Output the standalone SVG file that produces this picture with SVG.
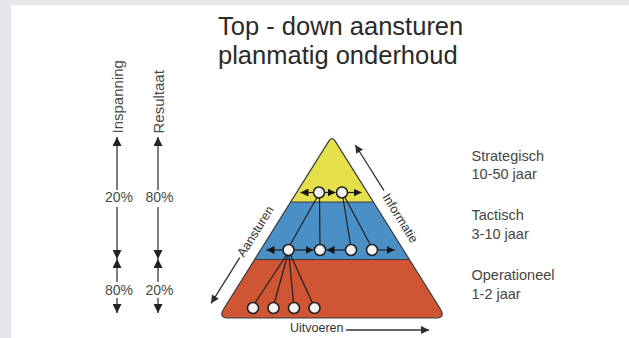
<svg xmlns="http://www.w3.org/2000/svg" width="629" height="338" viewBox="0 0 629 338">
  <style>
    .title { font-family: "Liberation Sans", Arial, sans-serif; font-size: 25.5px; fill: #2a2a2a; }
    .lvl { font-family: "Liberation Sans", Arial, sans-serif; font-size: 14.5px; fill: #454545; }
    .pct { font-family: "Liberation Sans", Arial, sans-serif; font-size: 14px; fill: #4a4a4a; }
    .side { font-family: "Liberation Sans", Arial, sans-serif; font-size: 15px; fill: #4a4a4a; }
    .lbl { font-family: "Liberation Sans", Arial, sans-serif; font-size: 12.5px; fill: #333; }
    .node { fill: #f3f3f3; stroke: #1e1e1e; stroke-width: 1.5; }
    .lk { stroke: #1f1f1f; stroke-width: 1.2; fill: none; }
    .col { stroke: #3a3a3a; stroke-width: 1.3; fill: none; }
    .arr { stroke: #333; stroke-width: 1.3; fill: none; }
  </style>
  <defs>
    <marker id="ah" viewBox="0 0 10 10" refX="10" refY="5" markerWidth="10" markerHeight="8" markerUnits="userSpaceOnUse" orient="auto">
      <path d="M0,0 L10,5 L0,10 z" fill="#2a2a2a"/>
    </marker>
    <marker id="ca" viewBox="0 0 10 10" refX="10" refY="5" markerWidth="10.5" markerHeight="9" markerUnits="userSpaceOnUse" orient="auto">
      <path d="M0,0 L10,5 L0,10 z" fill="#222"/>
    </marker>
    <marker id="sa" viewBox="0 0 10 10" refX="10" refY="5" markerWidth="8" markerHeight="8" markerUnits="userSpaceOnUse" orient="auto">
      <path d="M0,0 L10,5 L0,10 z" fill="#151515"/>
    </marker>
    <clipPath id="tri">
      <path d="M328.8,141.1 Q332,136 335.2,141.1 L440.2,308.7 Q446,318 435,318 L229,318 Q218,318 223.8,308.7 Z"/>
    </clipPath>
  </defs>

  <!-- background -->
  <rect x="0" y="0" width="629" height="338" fill="#e8e6ea"/>
  <rect x="11" y="5" width="618" height="333" fill="#ffffff"/>

  <!-- title -->
  <g id="title">
    <text class="title" x="218" y="35">Top - down aansturen</text>
    <text class="title" x="218" y="63.5">planmatig onderhoud</text>
  </g>

  <!-- pyramid -->
  <g id="pyramid">
    <g clip-path="url(#tri)">
      <rect x="200" y="130" width="260" height="72" fill="#e4df4a"/>
      <rect x="200" y="202" width="260" height="57.5" fill="#4a8fc6"/>
      <rect x="200" y="259.5" width="260" height="65" fill="#cf5535"/>
    </g>
    <line x1="290.7" y1="202" x2="373.3" y2="202" stroke="#3a3a3a" stroke-width="1.2"/>
    <line x1="254.6" y1="259.5" x2="409.4" y2="259.5" stroke="#3a3a3a" stroke-width="1.2"/>
    <path d="M328.8,141.1 Q332,136 335.2,141.1 L440.2,308.7 Q446,318 435,318 L229,318 Q218,318 223.8,308.7 Z" fill="none" stroke="#3a3a3a" stroke-width="1.2"/>
  </g>

  <!-- connectors -->
  <g id="connectors">
    <!-- top row -->
    <line class="lk" x1="313.5" y1="192.5" x2="300.5" y2="192.5" marker-end="url(#sa)"/>
    <line class="lk" x1="324.5" y1="192.5" x2="335.5" y2="192.5" marker-end="url(#sa)"/>
    <line class="lk" x1="347.5" y1="192.5" x2="361.5" y2="192.5" marker-end="url(#sa)"/>
    <!-- middle row -->
    <line class="lk" x1="283" y1="250" x2="266.5" y2="250" marker-end="url(#sa)"/>
    <line class="lk" x1="294" y1="250" x2="313.5" y2="250" marker-end="url(#sa)"/>
    <line class="lk" x1="345.5" y1="250" x2="326.5" y2="250" marker-end="url(#sa)"/>
    <line class="lk" x1="377.5" y1="250" x2="394.5" y2="250" marker-end="url(#sa)"/>
    <!-- top to middle -->
    <line class="lk" x1="317" y1="197.5" x2="290" y2="245"/>
    <line class="lk" x1="319.5" y1="198" x2="320" y2="244.5"/>
    <line class="lk" x1="343" y1="198" x2="350.5" y2="244.5"/>
    <line class="lk" x1="345" y1="197.5" x2="370.5" y2="245"/>
    <!-- middle to bottom -->
    <line class="lk" x1="286.5" y1="255" x2="255" y2="303"/>
    <line class="lk" x1="287.5" y1="255.5" x2="274.5" y2="302.5"/>
    <line class="lk" x1="289" y1="255.5" x2="293.5" y2="302.5"/>
    <line class="lk" x1="290.5" y1="255" x2="312.5" y2="303"/>

    <!-- Aansturen arrow -->
    <g transform="translate(332,136) rotate(-57.9)">
      <line class="arr" x1="-152" y1="-13.5" x2="-206" y2="-13.5" marker-end="url(#ah)"/>
    </g>
    <!-- Informatie arrow -->
    <g transform="translate(332,136) rotate(57.9)">
      <line class="arr" x1="74" y1="-15" x2="20" y2="-15" marker-end="url(#ah)"/>
    </g>
    <!-- Uitvoeren arrow -->
    <line class="arr" x1="346" y1="330" x2="429" y2="330" marker-end="url(#ah)"/>

    <!-- Inspanning column -->
    <line class="col" x1="117" y1="190" x2="117" y2="137" marker-end="url(#ca)"/>
    <line class="col" x1="117" y1="207" x2="117" y2="259" marker-end="url(#ca)"/>
    <line class="col" x1="117" y1="282" x2="117" y2="259" marker-end="url(#ca)"/>
    <line class="col" x1="117" y1="298" x2="117" y2="313" marker-end="url(#ca)"/>
    <!-- Resultaat column -->
    <line class="col" x1="158" y1="190" x2="158" y2="137" marker-end="url(#ca)"/>
    <line class="col" x1="158" y1="207" x2="158" y2="259" marker-end="url(#ca)"/>
    <line class="col" x1="158" y1="282" x2="158" y2="259" marker-end="url(#ca)"/>
    <line class="col" x1="158" y1="298" x2="158" y2="313" marker-end="url(#ca)"/>
  </g>

  <!-- nodes -->
  <g id="n-t1"><circle class="node" cx="319" cy="192.5" r="5.5"/></g>
  <g id="n-t2"><circle class="node" cx="342" cy="192.5" r="5.5"/></g>
  <g id="n-m1"><circle class="node" cx="288.5" cy="250" r="5.5"/></g>
  <g id="n-m2"><circle class="node" cx="320" cy="250" r="5.5"/></g>
  <g id="n-m3"><circle class="node" cx="351" cy="250" r="5.5"/></g>
  <g id="n-m4"><circle class="node" cx="372" cy="250" r="5.5"/></g>
  <g id="n-b1"><circle class="node" cx="253" cy="308" r="5.5"/></g>
  <g id="n-b2"><circle class="node" cx="273.5" cy="308" r="5.5"/></g>
  <g id="n-b3"><circle class="node" cx="294" cy="308" r="5.5"/></g>
  <g id="n-b4"><circle class="node" cx="314.5" cy="308" r="5.5"/></g>

  <!-- pyramid side labels -->
  <g id="label-aansturen" transform="translate(332,136) rotate(-57.9)">
    <text class="lbl" x="-150" y="-10">Aansturen</text>
  </g>
  <g id="label-informatie" transform="translate(332,136) rotate(57.9)">
    <text class="lbl" x="78" y="-10">Informatie</text>
  </g>
  <g id="label-uitvoeren">
    <text class="lbl" x="290" y="332">Uitvoeren</text>
  </g>

  <!-- level labels -->
  <g id="level-strategisch">
    <text class="lvl" x="471.5" y="161">Strategisch</text>
    <text class="lvl" x="471.5" y="179">10-50 jaar</text>
  </g>
  <g id="level-tactisch">
    <text class="lvl" x="471.5" y="220">Tactisch</text>
    <text class="lvl" x="471.5" y="238.5">3-10 jaar</text>
  </g>
  <g id="level-operationeel">
    <text class="lvl" x="471.5" y="280">Operationeel</text>
    <text class="lvl" x="471.5" y="298.5">1-2 jaar</text>
  </g>

  <!-- left columns -->
  <g id="col-inspanning">
    <text class="side" transform="translate(122.5,133.5) rotate(-90)">Inspanning</text>
    <text class="pct" x="119" y="202" text-anchor="middle">20%</text>
    <text class="pct" x="119" y="295" text-anchor="middle">80%</text>
  </g>
  <g id="col-resultaat">
    <text class="side" transform="translate(163.5,133.5) rotate(-90)">Resultaat</text>
    <text class="pct" x="159.5" y="202" text-anchor="middle">80%</text>
    <text class="pct" x="159.5" y="295" text-anchor="middle">20%</text>
  </g>
</svg>
